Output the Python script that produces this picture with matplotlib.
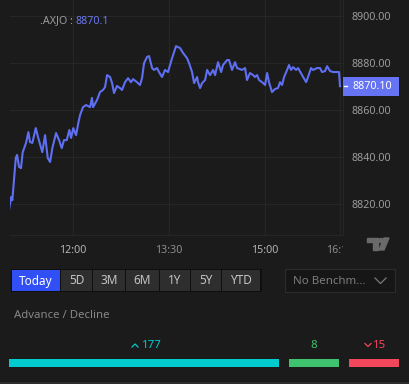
import matplotlib
matplotlib.use("Agg")
import matplotlib.pyplot as plt
from matplotlib.patches import Rectangle, Polygon, Circle
from matplotlib.transforms import Bbox, TransformedBbox, blended_transform_factory

plt.rcParams['font.family'] = ['Noto Sans', 'DejaVu Sans']

# intraday .AXJO, minutes after midnight and index level
minutes = [660.6, 662.5, 663.7, 666.9, 668.1, 670.0, 671.8, 673.4, 676.5, 678.7,
           680.2, 682.4, 685.6, 687.7, 691.7, 694.3, 696.8, 699.0, 701.1, 704.6,
           707.4, 709.9, 712.0, 714.6, 717.0, 718.6, 720.7, 723.3, 725.4, 727.0,
           729.8, 732.6, 736.4, 738.2, 739.2, 742.9, 745.7, 748.5, 750.4, 752.3,
           755.1, 757.0, 758.8, 761.6, 764.4, 766.3, 769.1, 771.9, 774.7, 776.6,
           780.3, 783.1, 785.0, 786.9, 789.7, 791.6, 794.4, 796.2, 799.0, 800.9,
           803.7, 806.5, 809.3, 813.1, 816.8, 820.6, 823.4, 827.1, 829.0, 831.8,
           833.7, 836.5, 837.4, 839.3, 841.2, 844.0, 845.9, 848.6, 851.5, 853.3,
           856.1, 859.0, 860.8, 864.6, 866.4, 869.2, 872.0, 873.9, 878.6, 881.4,
           883.2, 886.0, 888.9, 890.7, 892.6, 894.5, 897.3, 900.1, 902.0, 903.8,
           906.6, 909.4, 912.2, 914.1, 916.0, 917.9, 920.7, 922.5, 924.4, 926.3,
           929.1, 931.0, 934.7, 938.5, 940.3, 943.1, 945.0, 948.8, 951.5, 953.4,
           956.2, 958.1, 960.9, 963.7, 969.3, 970.2]
levels = [8817.5, 8823.0, 8821.7, 8839.6, 8840.9, 8835.8, 8835.3, 8842.1, 8846.0, 8850.6,
          8846.4, 8846.0, 8852.3, 8848.5, 8842.1, 8849.3, 8839.6, 8837.9, 8843.8, 8850.2,
          8847.2, 8843.8, 8847.2, 8847.2, 8851.5, 8848.1, 8852.3, 8849.3, 8854.4, 8857.8,
          8861.2, 8862.1, 8861.2, 8865.1, 8861.2, 8864.2, 8867.6, 8868.5, 8869.7, 8874.8,
          8874.0, 8871.4, 8867.2, 8870.2, 8869.3, 8868.5, 8871.8, 8873.5, 8871.8, 8873.1,
          8871.8, 8870.6, 8873.5, 8879.9, 8882.5, 8882.9, 8877.8, 8877.0, 8877.8, 8876.1,
          8874.0, 8877.0, 8876.1, 8882.0, 8887.1, 8886.3, 8884.2, 8882.0, 8879.9, 8876.1,
          8871.4, 8874.0, 8871.8, 8869.3, 8871.4, 8872.7, 8877.0, 8874.8, 8877.0, 8874.8,
          8880.3, 8876.1, 8879.1, 8881.2, 8881.2, 8877.0, 8880.3, 8877.8, 8877.0, 8877.8,
          8872.7, 8875.7, 8874.8, 8874.0, 8874.8, 8872.7, 8871.8, 8870.6, 8875.7, 8871.8,
          8867.6, 8868.9, 8869.3, 8871.8, 8870.6, 8874.0, 8877.0, 8879.1, 8877.0, 8878.2,
          8877.0, 8877.8, 8874.8, 8871.8, 8874.0, 8877.8, 8877.0, 8877.8, 8877.8, 8876.1,
          8876.5, 8878.6, 8876.5, 8876.1, 8876.1, 8870.1]
last_price = 8870.1

x_ticks = [720, 810, 900, 970]
x_labels = ['12:00', '13:30', '15:00', '16:10']
y_ticks = [8820, 8840, 8860, 8880, 8900]

periods = ['Today', '5D', '3M', '6M', '1Y', '5Y', 'YTD']
adv_labels = ['advance', 'unchanged', 'decline']
adv_counts = [177, 8, 15]

BG = '#1b1b1b'
GRID = '#262626'
LINE = '#5e6ff2'
W, H = 410, 384

fig = plt.figure(figsize=(W / 100, H / 100), dpi=100, facecolor=BG)

# price chart
ax = fig.add_axes([10 / W, 1 - 235 / H, 333 / W, 235 / H], facecolor=BG)
ax.plot(minutes, levels, color=LINE, lw=1.5, solid_joinstyle='round')
ax.set_xlim(661.5, 973.0)
ax.set_ylim(8806.9, 8906.7)
ax.yaxis.tick_right()
ax.set_yticks(y_ticks)
ax.set_yticklabels(['%.2f' % v for v in y_ticks], fontsize=7.7, color='#9c9c9c')
ax.set_xticks(x_ticks)
ax.set_xticklabels(x_labels, fontsize=7.7, color='#8c8c8c')
ax.tick_params(length=0, pad=6)
ax.tick_params(axis='x', pad=7)
ax.grid(True, color=GRID, lw=0.8)
for s in ['left', 'top']:
    ax.spines[s].set_visible(False)
for s in ['right', 'bottom']:
    ax.spines[s].set_color(GRID)
    ax.spines[s].set_linewidth(0.8)

xl = ax.get_xticklabels()
for i in (0, 2):
    xl[i].set_fontweight('bold')
    xl[i].set_color('#b4b4b4')
clip = TransformedBbox(Bbox([[0, 0], [343 / W, 1]]), fig.transFigure)
xl[3].set_clip_on(True)
xl[3].set_clip_box(clip)

# last price tag
bt = blended_transform_factory(ax.transAxes, ax.transData)
tag_h = 8.1
ax.add_patch(Rectangle((1.0, last_price - tag_h / 2), 56 / 333, tag_h, transform=bt,
                       facecolor='#6674f4', edgecolor='none', clip_on=False, zorder=5))
ax.plot([1.003, 1.013], [last_price, last_price], transform=bt, color='white',
        lw=1.0, clip_on=False, zorder=6)
ax.text(1 + 29 / 333, last_price, '%.2f' % last_price, transform=bt, color='white',
        fontsize=7.7, fontweight='bold', ha='center', va='center', zorder=6)

# title
t1 = ax.text(30 / 333, 1 - 21 / 235, '.AXJO : ', transform=ax.transAxes,
             fontsize=7.7, color='#9c9c9c', va='center', ha='left')
ax.annotate('%.1f' % last_price, xy=(1, 0.5), xycoords=t1, va='center', ha='left',
            fontsize=7.7, color='#6a78f0')

# overlay in pixel units for the controls below the chart
ui = fig.add_axes([0, 0, 1, 1], facecolor='none')
ui.set_xlim(0, W)
ui.set_ylim(H, 0)
ui.axis('off')

# TradingView logo
logo = '#6a6a6a'
ui.add_patch(Polygon([(367, 238), (378, 238), (378, 250), (373, 250), (373, 242), (367, 242)],
                     closed=True, color=logo))
ui.add_patch(Circle((381, 240.5), 2.0, color=logo))
ui.add_patch(Polygon([(384, 238), (389, 238), (384, 250), (379, 250)], closed=True, color=logo))

# period buttons
edges = [12, 61, 93, 126, 160, 191, 222, 261]
ui.add_patch(Rectangle((11, 269), 251, 23, facecolor='#0f0f0f', edgecolor='none'))
for i, p in enumerate(periods):
    x0, x1 = edges[i], edges[i + 1] - 1
    fc = '#3050f6' if i == 0 else '#2e2e2e'
    ui.add_patch(Rectangle((x0, 270), x1 - x0, 21, facecolor=fc, edgecolor='none'))
    ui.text((x0 + x1) / 2, 281, p, ha='center', va='center', fontsize=8.5,
            color='white' if i == 0 else '#c4c4c4')

# benchmark dropdown
ui.add_patch(Rectangle((285, 269), 110, 23, facecolor='#161616', edgecolor='#2c2c2c', lw=0.8))
ui.text(293, 281, 'No Benchm...', ha='left', va='center', fontsize=8.3, color='#7c7c7c')
ui.plot([375, 380.5, 386], [278, 283.5, 278], color='#7c7c7c', lw=0.9)

ui.text(14, 316, 'Advance / Decline', ha='left', va='center', fontsize=8.2, color='#888888')

# advance / decline bars: small groups get a minimum width, the rest to the largest
span_left, span_right, gap, min_w = 9, 399, 10, 50
widths = [min_w if c != max(adv_counts) else 0 for c in adv_counts]
widths[adv_counts.index(max(adv_counts))] = (span_right - span_left) - min_w * (len(adv_counts) - 1) - gap * (len(adv_counts) - 1)
lefts = []
pos = span_left
for w in widths:
    lefts.append(pos)
    pos += w + gap
colors = ['#00ccd0', '#3ec26e', '#f2475a']
ui.barh([363] * 3, widths, left=lefts, height=8, color=colors)

c0 = lefts[0] + widths[0] / 2
ui.text(c0 - 2, 345.5, str(adv_counts[0]), ha='left', va='center', fontsize=8.3, color=colors[0])
ui.plot([c0 - 12, c0 - 9, c0 - 6], [347, 344, 347], color=colors[0], lw=0.9)
ui.text(lefts[1] + widths[1] / 2, 346, str(adv_counts[1]), ha='center', va='center',
        fontsize=8.3, color=colors[1])
c2 = lefts[2] + widths[2] / 2
ui.text(c2 - 1, 345.5, str(adv_counts[2]), ha='left', va='center', fontsize=8.3, color=colors[2])
ui.plot([c2 - 9, c2 - 6, c2 - 3], [343.5, 346.5, 343.5], color=colors[2], lw=0.9)

ui.add_patch(Rectangle((0, 382), W, 2, facecolor='#2c2c2c', edgecolor='none'))

fig.savefig('out.png', dpi=100, facecolor=BG)
